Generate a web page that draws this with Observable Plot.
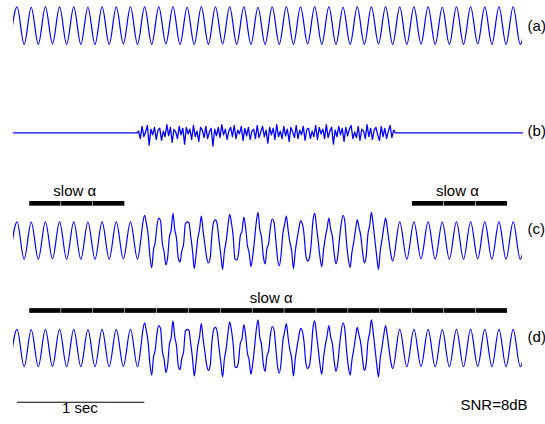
<!DOCTYPE html>
<html>
<head>
<meta charset="utf-8">
<script src="https://cdn.jsdelivr.net/npm/d3@7"></script>
<script src="https://cdn.jsdelivr.net/npm/@observablehq/plot@0.6"></script>
<style>
  html, body { margin: 0; padding: 0; background: #fff; }
  #chart svg { display: block; }
</style>
</head>
<body>
<div id="chart"></div>
<script>
// ---------- DATA ----------
// Clean alpha rhythm (~9 Hz): successive troughs/peaks, one sample every half cycle
const cleanStart = -1 / 36;   // s, first trough
const cleanRate = 18;         // samples per second (extrema)
const cleanExtrema = [
  -1, 1, -1, 0.98, -1, 1, -0.98, 1, -1, 1,
  -1, 0.98, -1, 1, -1, 1, -0.98, 1, -1, 1,
  -1, 1, -0.98, 1, -1, 0.98, -1, 1, -1, 1,
  -0.98, 1, -1, 1, -1, 0.98, -1, 1, -1, 1,
  -1, 1, -0.98, 1, -1, 1, -1, 0.98, -1, 1,
  -1, 1, -0.98, 1, -1, 1, -1, 1, -0.98, 1,
  -1, 0.98, -1, 1, -1, 1, -0.98, 1, -1, 1,
  -1, 1, -1, 1
];

// Added noise burst, trace (b)
const noiseStart = 0.98;      // s
const noiseRate = 72;         // samples per second
const noise = [
  0.1, -0.3, 0.35, -0.2, 0.05, 0.4, -0.65, 0.2, -0.1, 0.3, -0.35, 0.15, 0.25, -0.4, 0.1,
  -0.2, 0.45, -0.15, 0.3, -0.5, 0.2, 0.05, -0.3, 0.35, -0.1, 0.25, -0.6, 0.3, -0.05, 0.2,
  -0.35, 0.4, -0.2, 0.1, -0.45, 0.3, 0.15, -0.25, 0.35, -0.3, 0.05, 0.25, -0.7, 0.2, -0.15,
  0.3, -0.25, 0.45, -0.1, 0.2, -0.35, 0.1, 0.3, -0.2, 0.4, -0.3, 0.15, -0.05, 0.35, -0.4,
  0.25, -0.15, 0.3, -0.35, 0.1, 0.2, -0.3, 0.4, -0.25, 0.05, 0.35, -0.2, 0.15, -0.55, 0.3,
  -0.1, 0.25, -0.35, 0.45, -0.2, 0.1, -0.3, 0.35, -0.15, 0.2, -0.45, 0.3, 0.05, -0.25, 0.4,
  -0.3, 0.15, -0.1, 0.35, -0.4, 0.2, 0.25, -0.3, 0.1, -0.2, 0.4, -0.35, 0.3, -0.05, 0.2,
  -0.3, 0.45, -0.25, 0.1, 0.3, -0.6, 0.15, -0.2, 0.35, -0.1, 0.25, -0.45, 0.3, -0.15, 0.2,
  0.4, -0.3, 0.05, -0.25, 0.35, -0.4, 0.2, 0.1, -0.3, 0.45, -0.2, 0.25, -0.35, 0.15, 0.3,
  -0.1, -0.4, 0.35, -0.2, 0.25, -0.3, 0.1, 0.4, -0.25, 0.15
];

// Observed signal (alpha + noise) during the burst, traces (c) and (d)
const obsStart = 1.0;         // s
const obsRate = 72;           // samples per second
const observed = [
  0.15, 0.95, 1.35, 0.9, 0.3, -0.85, -1.45, -0.5,
  -0.1, 0.8, 1.2, 1.05, -0.15, -0.6, -1.3, -0.9,
  0.2, 0.55, 1.45, 0.6, 0.1, -0.95, -1.15, -0.55,
  -0.2, 0.9, 1.0, 0.95, 0.25, -0.5, -1.5, -0.8,
  0.1, 0.6, 1.3, 0.5, -0.2, -0.9, -1.2, -0.95,
  0.3, 1.0, 1.1, 0.85, 0.0, -0.75, -1.55, -0.6,
  -0.05, 0.75, 1.4, 0.95, 0.2, -1.0, -1.05, -0.7,
  0.25, 0.5, 1.25, 0.7, -0.25, -0.65, -1.4, -0.85,
  0.0, 0.95, 1.5, 0.6, 0.15, -0.85, -1.25, -0.45,
  -0.15, 0.7, 1.15, 1.0, 0.05, -0.95, -1.35, -0.8,
  0.35, 0.85, 1.3, 0.55, -0.1, -0.55, -1.5, -0.6,
  0.05, 0.6, 1.05, 0.9, 0.3, -0.8, -1.1, -0.95,
  -0.2, 1.05, 1.45, 0.75, -0.05, -0.9, -1.4, -0.5,
  0.15, 0.65, 1.2, 0.6, 0.2, -0.7, -1.25, -0.85,
  0.1, 0.9, 1.35, 1.0, -0.15, -1.0, -1.45, -0.65,
  -0.1, 0.55, 1.1, 0.7, 0.25, -0.6, -1.2, -0.9,
  0.3, 0.8, 1.5, 0.85, 0.0, -0.85, -1.55, -0.55,
  0.05, 0.7, 1.2, 0.65, -0.1, -0.75, -1.1
];

// "slow α" windows (start times, s), each 0.25 s long
const windowLength = 0.25;
const slowWindowsC = [0.125, 0.375, 0.625, 3.125, 3.375, 3.625];
const slowWindowsD = [0.125, 0.375, 0.625, 0.875, 1.125, 1.375, 1.625, 1.875,
                      2.125, 2.375, 2.625, 2.875, 3.125, 3.375, 3.625];

const traceLabels = ["(a)", "(b)", "(c)", "(d)"];
const slowLabel = "slow α";
const scaleBar = {start: 0.03, length: 1, label: "1 sec"};
const snrLabel = "SNR=8dB";
const duration = 3.99;        // s

// ---------- LAYOUT ----------
const W = 545, H = 424;
const pxPerUnit = 18.7;
const yMax = H / pxPerUnit;
const off = {a: 21.33, b: 15.59, c: 9.84, d: 4.09};
const barC = 11.80, barD = 6.07, barHalf = 0.125;
const labelY = [21.28, 15.69, 10.43, 4.65];

const clean = cleanExtrema.map((v, j) => ({t: cleanStart + j / cleanRate, v}));
const obs = observed.map((v, i) => ({t: obsStart + i / obsRate, v}));
const obsEnd = obs[obs.length - 1].t;
const noisy = [
  ...clean.filter(d => d.t < obsStart - 0.001),
  ...obs,
  ...clean.filter(d => d.t > obsEnd + 0.001)
];
const noiseEnd = noiseStart + (noise.length - 1) / noiseRate;
const traceB = [
  {t: 0, v: 0},
  {t: noiseStart - 1 / noiseRate, v: 0},
  ...noise.map((v, i) => ({t: noiseStart + i / noiseRate, v})),
  {t: noiseEnd + 1 / noiseRate, v: 0},
  {t: duration, v: 0}
];

const shift = (arr, o) => arr.map(d => ({t: d.t, y: d.v + o}));

const blue = "#0000ff";
const font = "Liberation Sans, Arial, Helvetica, sans-serif";
const fs = 15;
const sw = 1.2;

const chart = Plot.plot({
  width: W,
  height: H,
  marginLeft: 13,
  marginRight: 23,
  marginTop: 0,
  marginBottom: 0,
  style: {fontFamily: font, background: "#fff"},
  x: {domain: [0, duration], axis: null},
  y: {domain: [0, yMax], axis: null},
  marks: [
    Plot.line(shift(clean, off.a), {x: "t", y: "y", stroke: blue, strokeWidth: sw, curve: "monotone-x", clip: true}),
    Plot.line(shift(traceB, off.b), {x: "t", y: "y", stroke: blue, strokeWidth: 1.3}),
    Plot.line(shift(noisy, off.c), {x: "t", y: "y", stroke: blue, strokeWidth: sw, curve: "monotone-x", clip: true}),
    Plot.line(shift(noisy, off.d), {x: "t", y: "y", stroke: blue, strokeWidth: sw, curve: "monotone-x", clip: true}),

    Plot.rect(slowWindowsC, {x1: d => d, x2: d => d + windowLength, y1: barC - barHalf, y2: barC + barHalf,
      fill: "black", insetLeft: 0.3, insetRight: 0.3}),
    Plot.rect(slowWindowsD, {x1: d => d, x2: d => d + windowLength, y1: barD - barHalf, y2: barD + barHalf,
      fill: "black", insetLeft: 0.3, insetRight: 0.3}),

    Plot.text([0.48, 3.48], {x: d => d, y: 12.49, text: () => slowLabel, fontSize: fs, fill: "black"}),
    Plot.text([2.02], {x: d => d, y: 6.75, text: () => slowLabel, fontSize: fs, fill: "black"}),

    Plot.text(traceLabels, {x: 4.03, y: (d, i) => labelY[i], text: d => d,
      textAnchor: "start", fontSize: fs, fill: "black"}),

    Plot.ruleY([1.19], {x1: scaleBar.start, x2: scaleBar.start + scaleBar.length, stroke: "black", strokeWidth: 1}),
    Plot.text([scaleBar], {x: d => d.start + d.length / 2 - 0.01, y: 0.86, text: d => d.label, fontSize: fs, fill: "black"}),
    Plot.text([snrLabel], {x: 4.03, y: 1.02, text: d => d, textAnchor: "end", fontSize: fs, fill: "black"})
  ]
});
document.getElementById("chart").appendChild(chart);
</script>
</body>
</html>
